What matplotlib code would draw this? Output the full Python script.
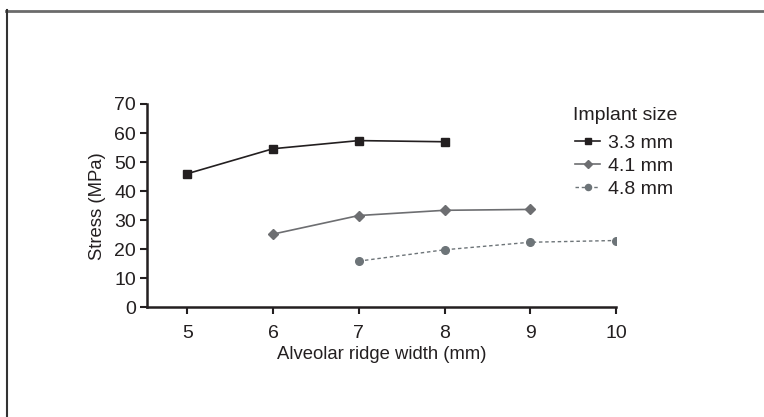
import matplotlib
matplotlib.use("Agg")
import matplotlib.pyplot as plt
from matplotlib.lines import Line2D

plt.rcParams['font.family'] = ['Liberation Sans', 'DejaVu Sans']

x_33 = [5, 6, 7, 8]
y_33 = [46.0, 54.6, 57.4, 57.0]
x_41 = [6, 7, 8, 9]
y_41 = [25.2, 31.6, 33.4, 33.7]
x_48 = [7, 8, 9, 10]
y_48 = [15.9, 19.8, 22.4, 23.0]
series_labels = ["3.3 mm", "4.1 mm", "4.8 mm"]
xticks = [5, 6, 7, 8, 9, 10]
yticks = [0, 10, 20, 30, 40, 50, 60, 70]

fs = 14
fl = 13.3
ink = '#231f20'

fig = plt.figure(figsize=(7.64, 4.17), dpi=100)
ax = fig.add_axes([147/764, 1-307.3/417, (616-147)/764, (307.3-104)/417])

c1 = '#231f20'
c2 = '#6d6e71'
c3 = '#6d7478'
ax.plot(x_33, y_33, color=c1, lw=1.2, marker='s', ms=6, label=series_labels[0])
ax.plot(x_41, y_41, color=c2, lw=1.2, marker='D', ms=5, label=series_labels[1])
ax.plot(x_48, y_48, color=c3, lw=1.0, ls=(0, (2.5, 2)), marker='o', ms=5.5, label=series_labels[2])

ax.set_xlim(4.53, 10)
ax.set_ylim(0, 70)
ax.set_xticks(xticks)
ax.set_yticks(yticks)
for s in ['top', 'right']:
    ax.spines[s].set_visible(False)
for s in ['left', 'bottom']:
    ax.spines[s].set_linewidth(1.8)
    ax.spines[s].set_color(ink)
ax.tick_params(direction='out', length=5, width=1.5, color=ink, labelsize=fs, labelcolor=ink, pad=3)
ax.tick_params(axis='x', pad=7.5)
ax.set_xlabel("Alveolar ridge width (mm)", fontsize=fl, color=ink, labelpad=3)
ax.set_ylabel("Stress (MPa)", fontsize=fl, color=ink, labelpad=6)

fig.text(573/764, 1-115/417, "Implant size", fontsize=fs, color=ink, ha='left', va='center')
leg = fig.legend(loc='upper left', bbox_to_anchor=(575/764, 1-134/417), frameon=False,
                 fontsize=fs, handlelength=1.3, handletextpad=0.4, labelspacing=0.28,
                 markerscale=0.8, borderpad=0, borderaxespad=0)
for t in leg.get_texts():
    t.set_color(ink)

# frame lines
fig.add_artist(Line2D([6/764, 1], [1-10.5/417, 1-10.5/417], transform=fig.transFigure, color='#6b6b6b', lw=2))
fig.add_artist(Line2D([6.5/764, 6.5/764], [0, 1-10/417], transform=fig.transFigure, color='#333333', lw=1.5))

fig.savefig("out.png", dpi=100)
